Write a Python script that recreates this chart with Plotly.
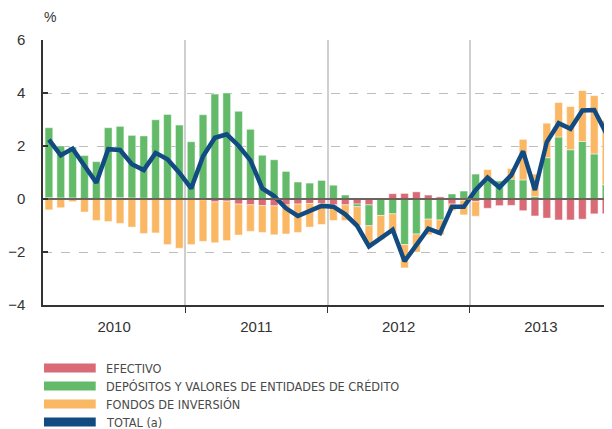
import plotly.graph_objects as go

years = ["2010", "2011", "2012", "2013"]
months_per_year = 12

efectivo = [0.05, 0.04, 0.04, 0.02, 0.0, 0.03, 0.05, 0.04, 0.03, 0.0, 0.0, 0.0,
            0.0, -0.03, -0.11, -0.08, -0.19, -0.22, -0.25, -0.26, -0.22, -0.19, -0.17, -0.17,
            -0.22, -0.22, -0.19, -0.22, 0.0, 0.2, 0.21, 0.27, 0.15, 0.08, -0.19, -0.05,
            -0.1, -0.35, -0.25, -0.24, -0.44, -0.64, -0.72, -0.79, -0.79, -0.76, -0.56, -0.56]

depositos = [2.64, 1.96, 1.92, 1.62, 1.41, 2.66, 2.69, 2.36, 2.35, 2.99, 3.19, 2.79,
             2.16, 3.18, 3.96, 4.0, 3.31, 2.63, 1.65, 1.48, 1.04, 0.64, 0.6, 0.7,
             0.52, 0.15, -0.1, -0.79, -0.62, -0.56, -1.72, -1.32, -0.76, -0.79, 0.19, 0.3,
             0.94, 0.71, 0.69, 0.75, 0.72, 0.09, 1.56, 2.34, 1.86, 2.17, 1.7, 0.54]

fondos = [-0.41, -0.33, -0.1, -0.49, -0.81, -0.85, -0.92, -1.06, -1.3, -1.28, -1.72, -1.86,
          -1.72, -1.57, -1.54, -1.49, -1.17, -1.0, -1.01, -1.09, -1.1, -1.07, -0.89, -0.79,
          -0.59, -0.59, -0.71, -0.71, -0.91, -0.75, -0.88, -0.68, -0.59, -0.56, -0.25, -0.55,
          -0.55, 0.4, 0.0, 0.4, 1.53, 0.85, 1.3, 1.3, 1.63, 1.92, 2.2, 2.42]

total = [2.24, 1.65, 1.9, 1.24, 0.61, 1.88, 1.85, 1.31, 1.09, 1.74, 1.5, 0.99,
         0.4, 1.61, 2.31, 2.44, 2.01, 1.46, 0.4, 0.11, -0.35, -0.64, -0.45, -0.26,
         -0.29, -0.58, -1.01, -1.79, -1.48, -1.16, -2.35, -1.75, -1.12, -1.29, -0.29, -0.29,
         0.34, 0.81, 0.44, 0.9, 1.8, 0.34, 2.15, 2.86, 2.65, 3.34, 3.36, 2.49]

y_ticks = [-4, -2, 0, 2, 4, 6]

series_names = ["EFECTIVO", "DEPÓSITOS Y VALORES DE ENTIDADES DE CRÉDITO",
                "FONDOS DE INVERSIÓN", "TOTAL (a)"]

RED = "#d96b77"
GREEN = "#63bb6a"
ORANGE = "#fbb864"
BLUE = "#124b82"
colors = [RED, GREEN, ORANGE, BLUE]

x = list(range(len(total)))
year_centers = [i * months_per_year + (months_per_year - 1) / 2 for i in range(len(years))]
year_bounds = [i * months_per_year - 0.5 for i in range(1, len(years))]

fig = go.Figure()
for name, vals, col in zip(series_names[:3], [efectivo, depositos, fondos], colors[:3]):
    fig.add_trace(go.Bar(x=x, y=vals, name=name, marker=dict(color=col,
                         line=dict(color="rgba(255,255,255,0.45)", width=1)),
                         showlegend=False))
fig.add_trace(go.Scatter(x=x, y=total, name=series_names[3], mode="lines",
                         line=dict(color=BLUE, width=4.5), showlegend=False))

font_main = "Liberation Sans, Arial, Helvetica, sans-serif"
font_narrow = "Liberation Sans Narrow, Arial Narrow, DejaVu Sans Condensed, sans-serif"

# page body has an 8px default margin: figure sized so plot area lands at x 40-612, y 40-305
fig.update_layout(
    width=604, height=421,
    margin=dict(l=32, r=0, t=32, b=124),
    paper_bgcolor="white", plot_bgcolor="white",
    barmode="relative", bargap=0.35,
    font=dict(family=font_main, color="#333333"),
)

fig.update_xaxes(
    range=[-0.5, len(total) - 0.5],
    tickmode="array", tickvals=year_centers, ticktext=years,
    ticks="", showgrid=False, zeroline=False,
    tickfont=dict(size=15, color="#333333"),
    ticklabelstandoff=7,
    showline=True, linecolor="#333333", linewidth=1.5,
    minor=dict(tickmode="array", tickvals=year_bounds, ticks="outside", ticklen=6,
               tickcolor="#333333", tickwidth=1, showgrid=True,
               gridcolor="#cfcfcf", gridwidth=2),
)

fig.update_yaxes(
    range=[-4, 6], tickmode="array", tickvals=y_ticks,
    ticks="inside", ticklen=5, tickcolor="#333333", tickwidth=1.5,
    tickfont=dict(size=15, color="#333333"),
    ticklabelstandoff=13,
    showgrid=True, gridcolor="#bdbdbd", gridwidth=1, griddash="dash",
    zeroline=True, zerolinecolor="#6e625c", zerolinewidth=2,
    showline=True, linecolor="#333333", linewidth=1.5,
)
try:
    fig.update_yaxes(zerolinelayer="above traces")
except Exception:
    pass

plot_h = 265.0
plot_w = 572.0

fig.add_annotation(text="%", xref="paper", yref="paper", x=7 / plot_w, y=1 + 23 / plot_h,
                   xanchor="center", yanchor="middle",
                   showarrow=False, font=dict(size=14, color="#333333", family=font_main))

# custom legend
row_px = [368, 386, 404, 422]
for name, col, ypx in zip(series_names, colors, row_px):
    yp = (305 - ypx) / plot_h
    fig.add_shape(type="rect", xref="paper", yref="paper",
                  x0=1 / plot_w, x1=53 / plot_w,
                  y0=yp - 4.5 / plot_h, y1=yp + 4.5 / plot_h,
                  fillcolor=col, line=dict(width=0))
    fig.add_annotation(text=name, xref="paper", yref="paper", x=61 / plot_w, y=yp,
                       xanchor="left", yanchor="middle", showarrow=False,
                       font=dict(size=12.6, color="#4a4a4a", family=font_narrow))

fig.write_html("out.html")
